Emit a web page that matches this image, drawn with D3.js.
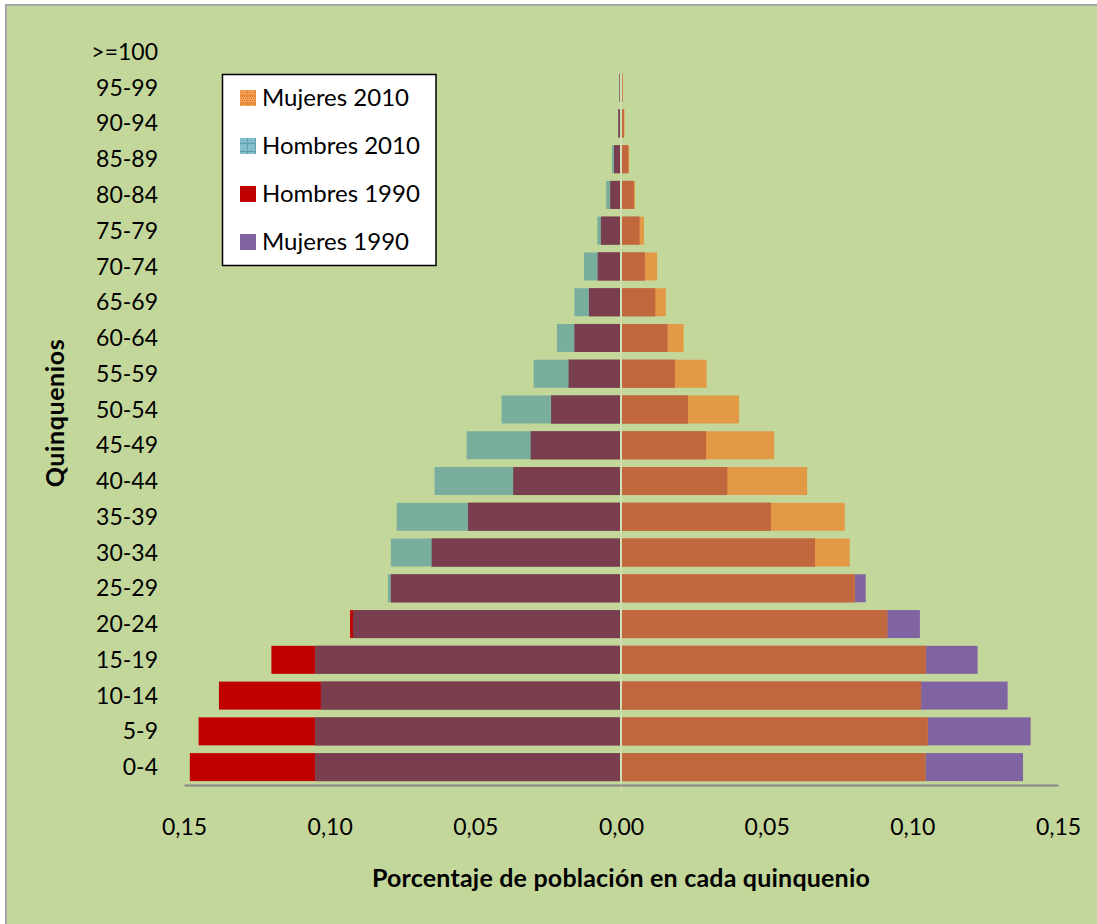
<!DOCTYPE html>
<html>
<head>
<meta charset="utf-8">
<script src="https://cdn.jsdelivr.net/npm/d3@7"></script>
<style>
  html, body { margin: 0; padding: 0; background: #ffffff; }
  svg { display: block; }
  text { font-family: Lato, "Open Sans", sans-serif; fill: #000; }
</style>
</head>
<body>
<svg id="chart" width="1097" height="924"></svg>
<script>
// Age groups, youngest first
const categories = ["0-4","5-9","10-14","15-19","20-24","25-29","30-34","35-39","40-44","45-49",
  "50-54","55-59","60-64","65-69","70-74","75-79","80-84","85-89","90-94","95-99",">=100"];

// Share of the population in each age group
const hombres1990 = [0.148, 0.145, 0.138, 0.120, 0.093, 0.079, 0.065, 0.0525, 0.037, 0.031,
  0.024, 0.018, 0.016, 0.011, 0.008, 0.0069, 0.0037, 0.0024, 0.0009, 0.0005, 0];
const hombres2010 = [0.105, 0.105, 0.103, 0.105, 0.092, 0.080, 0.079, 0.077, 0.064, 0.053,
  0.041, 0.030, 0.022, 0.016, 0.0127, 0.0081, 0.0051, 0.0031, 0.001, 0.0006, 0];
const mujeres1990 = [0.138, 0.1406, 0.1327, 0.1224, 0.1026, 0.084, 0.0666, 0.0515, 0.0365, 0.0292,
  0.023, 0.0185, 0.016, 0.0118, 0.0082, 0.0064, 0.0044, 0.0025, 0.001, 0.0005, 0];
const mujeres2010 = [0.1045, 0.1053, 0.103, 0.1047, 0.0914, 0.0802, 0.0785, 0.0768, 0.0639, 0.0526,
  0.0405, 0.0294, 0.0215, 0.0154, 0.0124, 0.0079, 0.0048, 0.0028, 0.0012, 0.0006, 0];

const xTicks = [-0.15, -0.10, -0.05, 0, 0.05, 0.10, 0.15];
const legendLabels = ["Mujeres 2010", "Hombres 2010", "Hombres 1990", "Mujeres 1990"];

const svg = d3.select("#chart");
const W = 1097, H = 924;

// textured fills
const defs = svg.append("defs");
function checker(id, a, b) {
  const p = defs.append("pattern").attr("id", id).attr("patternUnits", "userSpaceOnUse")
    .attr("width", 2).attr("height", 2);
  p.append("rect").attr("width", 2).attr("height", 2).attr("fill", a);
  p.append("rect").attr("width", 1).attr("height", 1).attr("fill", b);
  p.append("rect").attr("x", 1).attr("y", 1).attr("width", 1).attr("height", 1).attr("fill", b);
}
checker("pTeal", "#84b59f", "#6ea69c");
checker("pOrange", "#e9a04a", "#dc9240");
checker("pOrangeDark", "#c96a3c", "#b9653f");
checker("pMaroon", "#7b3f50", "#773d4c");

function swatch(id, a, b, line) {
  const p = defs.append("pattern").attr("id", id).attr("patternUnits", "userSpaceOnUse")
    .attr("width", 8).attr("height", 8);
  p.append("rect").attr("width", 8).attr("height", 8).attr("fill", a);
  for (let i = 0; i < 8; i += 2) for (let j = 0; j < 8; j += 2)
    p.append("rect").attr("x", i + (j % 4 ? 1 : 0)).attr("y", j).attr("width", 1).attr("height", 1).attr("fill", b);
  p.append("rect").attr("x", 0).attr("y", 7).attr("width", 8).attr("height", 1).attr("fill", line);
  p.append("rect").attr("x", 7).attr("y", 0).attr("width", 1).attr("height", 8).attr("fill", line);
}
swatch("sOrange", "#f0a35a", "#e47f2c", "#e98a3a");
swatch("sTeal", "#8cc0cf", "#74aebf", "#5b9fb3");

// chart area background
svg.append("rect").attr("x", 6).attr("y", 5).attr("width", W + 10).attr("height", H + 10)
  .attr("fill", "#c4d79b").attr("stroke", "#a6a6a6").attr("stroke-width", 2);

// scales
const x = d3.scaleLinear().domain([-0.15, 0.15]).range([184, 1058]);
const y = d3.scaleBand().domain(categories.slice().reverse()).range([34, 785])
  .paddingInner(0.217).paddingOuter(0.1085);

const rows = categories.map((c, i) => ({
  c, h90: hombres1990[i], h10: hombres2010[i], m90: mujeres1990[i], m10: mujeres2010[i]
}));

const x0 = x(0);
const bars = svg.append("g");
function leftBar(cls, val, fill) {
  bars.selectAll("rect." + cls).data(rows).join("rect").attr("class", cls)
    .attr("x", d => x(-val(d)))
    .attr("y", d => y(d.c))
    .attr("width", d => Math.max(0, x0 - 1 - x(-val(d))))
    .attr("height", y.bandwidth())
    .attr("fill", fill);
}
function rightBar(cls, val, fill) {
  bars.selectAll("rect." + cls).data(rows).join("rect").attr("class", cls)
    .attr("x", x0 + 1)
    .attr("y", d => y(d.c))
    .attr("width", d => Math.max(0, x(val(d)) - x0 - 1))
    .attr("height", y.bandwidth())
    .attr("fill", fill);
}
// men on the left, women on the right; the overlap of both years is shaded darker
leftBar("h90", d => d.h90, "#c00000");
leftBar("h10", d => d.h10, "url(#pTeal)");
leftBar("hov", d => Math.min(d.h90, d.h10), "url(#pMaroon)");
rightBar("m90", d => d.m90, "#8064a2");
rightBar("m10", d => d.m10, "url(#pOrange)");
rightBar("mov", d => Math.min(d.m90, d.m10), "url(#pOrangeDark)");

// vertical zero line
svg.append("line").attr("x1", x0).attr("x2", x0).attr("y1", y("95-99")).attr("y2", 791)
  .attr("stroke", "#dde6c6").attr("stroke-width", 1);

// horizontal axis
const xAxis = d3.axisBottom(x).tickValues(xTicks).tickSize(0).tickPadding(0)
  .tickFormat(d => d3.format(".2f")(Math.abs(d)).replace(".", ","));
const gx = svg.append("g").attr("transform", "translate(0,785)").call(xAxis);
gx.select(".domain").attr("stroke", "#868686").attr("stroke-width", 2);
gx.selectAll("text").attr("dy", null).attr("y", 50).style("font-size", "23px")
  .style("font-family", "Lato, sans-serif");

// category labels
const yAxis = d3.axisLeft(y).tickSize(0).tickPadding(0);
const gy = svg.append("g").attr("transform", "translate(158,0)").call(yAxis);
gy.select(".domain").remove();
gy.selectAll("text").attr("dy", "0.35em").style("font-size", "23px")
  .style("font-family", "Lato, sans-serif");

// axis titles
svg.append("text").attr("x", 621).attr("y", 887).attr("text-anchor", "middle")
  .style("font-size", "25px").style("font-weight", "bold").style("letter-spacing", "0.2px")
  .text("Porcentaje de población en cada quinquenio");
svg.append("text").attr("transform", "translate(64,413) rotate(-90)").attr("text-anchor", "middle")
  .style("font-size", "25px").style("font-weight", "bold").style("letter-spacing", "0.6px")
  .text("Quinquenios");

// legend
const lg = svg.append("g");
lg.append("rect").attr("x", 222.5).attr("y", 74.5).attr("width", 213.5).attr("height", 191)
  .attr("fill", "#ffffff").attr("stroke", "#000").attr("stroke-width", 1.5);
const legendFills = ["url(#sOrange)", "url(#sTeal)", "#c00000", "#8064a2"];
legendLabels.forEach((t, i) => {
  const yy = 90 + i * 48;
  lg.append("rect").attr("x", 240).attr("y", yy).attr("width", 16).attr("height", 16)
    .attr("fill", legendFills[i]);
  lg.append("text").attr("x", 262).attr("y", yy + 16).style("font-size", "24px").text(t);
});
</script>
</body>
</html>
